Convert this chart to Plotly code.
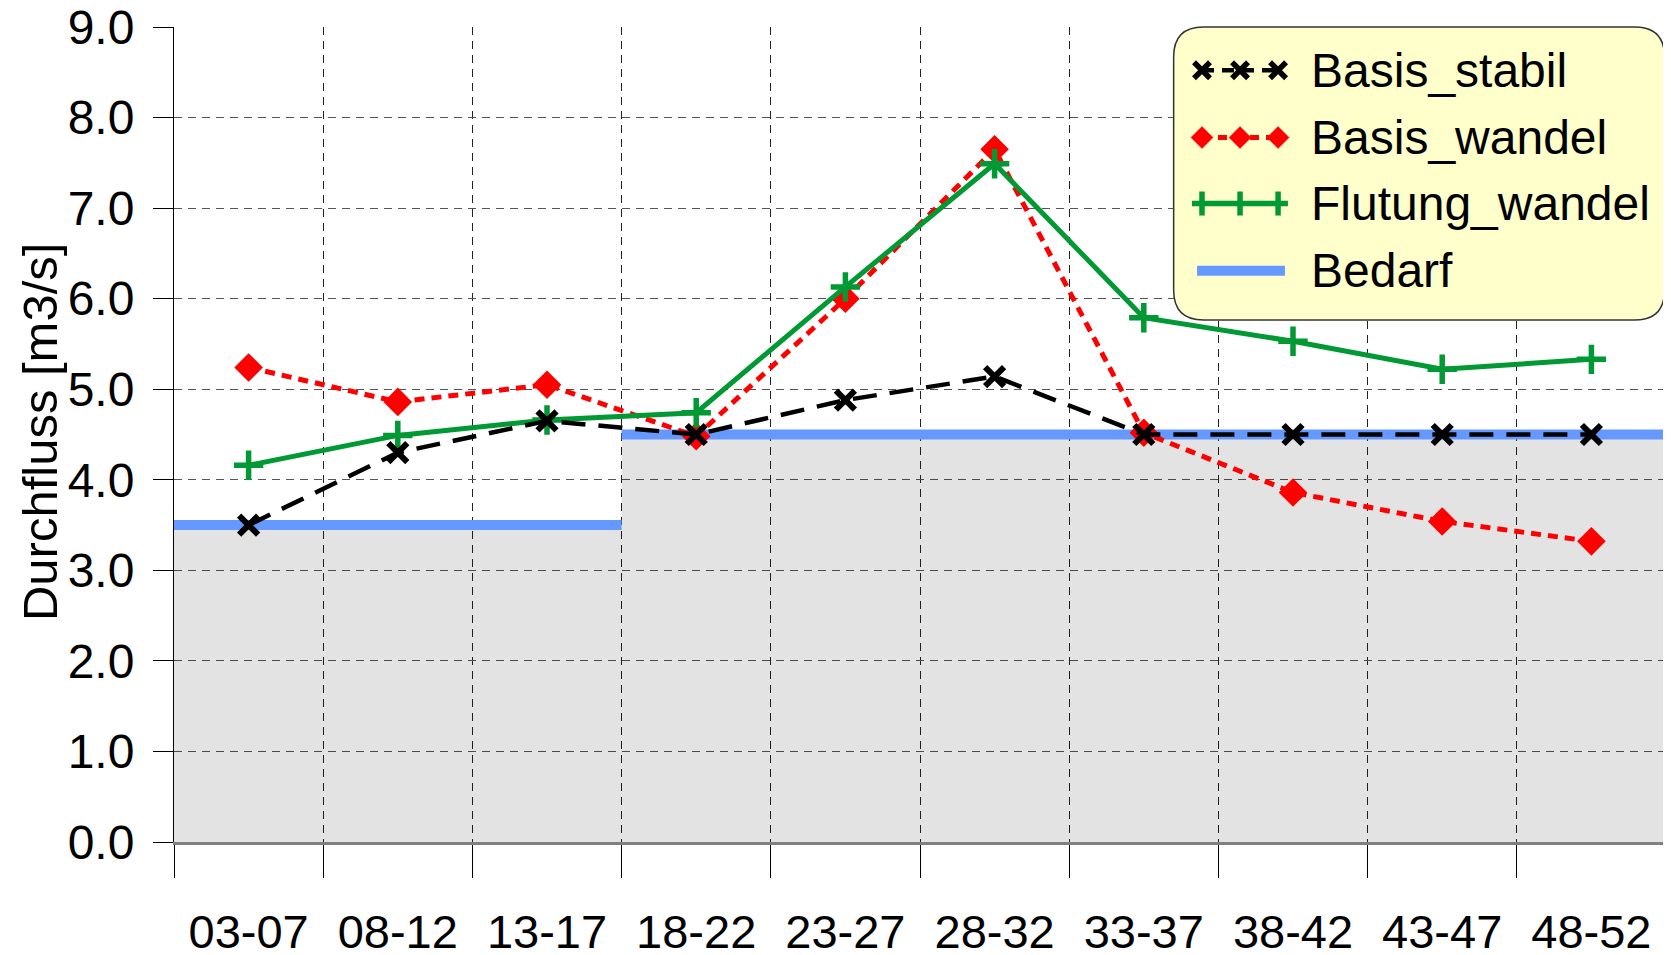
import plotly.graph_objects as go

categories = ["03-07", "08-12", "13-17", "18-22", "23-27", "28-32", "33-37", "38-42", "43-47", "48-52"]
basis_stabil = [3.5, 4.3, 4.65, 4.5, 4.88, 5.14, 4.5, 4.5, 4.5, 4.5]
basis_wandel = [5.24, 4.86, 5.05, 4.48, 6.0, 7.65, 4.52, 3.86, 3.54, 3.32]
flutung_wandel = [4.16, 4.49, 4.66, 4.74, 6.13, 7.49, 5.79, 5.53, 5.22, 5.33]
bedarf = [3.5, 3.5, 3.5, 4.5, 4.5, 4.5, 4.5, 4.5, 4.5, 4.5]
y_ticks = [0, 1, 2, 3, 4, 5, 6, 7, 8, 9]

n = len(categories)
idx = list(range(n))
edges = [i - 0.5 for i in range(n + 1)]

# Bedarf line as horizontal segments (no vertical riser where the level changes)
bed_x, bed_y = [], []
for i, v in enumerate(bedarf):
    if i > 0 and v != bedarf[i - 1]:
        bed_x.append(None)
        bed_y.append(None)
        bed_x.append(edges[i])
        bed_y.append(v)
    elif i == 0:
        bed_x.append(edges[0])
        bed_y.append(v)
    bed_x.append(edges[i + 1])
    bed_y.append(v)

FONT = "Liberation Sans, Arial, sans-serif"
BLACK = "#000000"
RED = "#FF0000"
GREEN = "#009933"
BLUE = "#6699FF"

fig = go.Figure()

# grey area beneath the Bedarf level
fig.add_trace(go.Scatter(
    x=edges, y=bedarf + [bedarf[-1]], mode="none", line_shape="hv",
    fill="tozeroy", fillcolor="rgba(0,0,0,0.11)", showlegend=False, hoverinfo="skip",
))
fig.add_trace(go.Scatter(
    x=bed_x, y=bed_y, mode="lines", connectgaps=False,
    line=dict(color=BLUE, width=10), name="Bedarf", showlegend=False,
))
fig.add_trace(go.Scatter(
    x=idx, y=basis_wandel, mode="lines+markers", name="Basis_wandel",
    line=dict(color=RED, width=5, dash="10px,7px"),
    marker=dict(symbol="diamond", size=22, color=RED), showlegend=False,
))
fig.add_trace(go.Scatter(
    x=idx, y=flutung_wandel, mode="lines+markers", name="Flutung_wandel",
    line=dict(color=GREEN, width=5),
    marker=dict(symbol="cross-thin", size=21, color=GREEN, line=dict(color=GREEN, width=5.5)),
    showlegend=False,
))
fig.add_trace(go.Scatter(
    x=idx, y=basis_stabil, mode="lines+markers", name="Basis_stabil",
    line=dict(color=BLACK, width=4.5, dash="24px,13px"),
    marker=dict(symbol="x-thin", size=19, color=BLACK, line=dict(color=BLACK, width=6)),
    showlegend=False,
))

# ---- custom legend (rounded box, samples, labels) ----
shapes = []
bx0, bx1, by0, by1 = 0.670, 0.999, 0.6405, 1.0
rx, ry = 0.02, 0.0368
path = (f"M{bx0+rx},{by1} L{bx1-rx},{by1} Q{bx1},{by1} {bx1},{by1-ry} "
        f"L{bx1},{by0+ry} Q{bx1},{by0} {bx1-rx},{by0} L{bx0+rx},{by0} "
        f"Q{bx0},{by0} {bx0},{by0+ry} L{bx0},{by1-ry} Q{bx0},{by1} {bx0+rx},{by1} Z")
shapes.append(dict(type="path", xref="paper", yref="paper", path=path,
                   fillcolor="#FFFFCC", line=dict(color="#333333", width=1.5), layer="above"))

rows = [0.9469, 0.8644, 0.7834, 0.701]
mk = [0.689, 0.7145, 0.740]
text_x = 0.7607
labels = ["Basis_stabil", "Basis_wandel", "Flutung_wandel", "Bedarf"]

# Basis_stabil sample
shapes.append(dict(type="line", xref="paper", yref="paper", x0=mk[0], x1=mk[2], y0=rows[0], y1=rows[0],
                   line=dict(color=BLACK, width=4.5, dash="12px,8px"), layer="above"))
for m in mk:
    shapes.append(dict(type="path", xref="paper", yref="paper", xsizemode="pixel", ysizemode="pixel",
                       xanchor=m, yanchor=rows[0], path="M-8,-8 L8,8 M-8,8 L8,-8",
                       line=dict(color=BLACK, width=5.5), layer="above"))
# Basis_wandel sample
shapes.append(dict(type="line", xref="paper", yref="paper", x0=mk[0], x1=mk[2], y0=rows[1], y1=rows[1],
                   line=dict(color=RED, width=5, dash="9px,7px"), layer="above"))
for m in mk:
    shapes.append(dict(type="path", xref="paper", yref="paper", xsizemode="pixel", ysizemode="pixel",
                       xanchor=m, yanchor=rows[1], path="M0,11 L11,0 L0,-11 L-11,0 Z",
                       fillcolor=RED, line=dict(color=RED, width=0.5), layer="above"))
# Flutung_wandel sample
shapes.append(dict(type="line", xref="paper", yref="paper", x0=0.6823, x1=0.7466, y0=rows[2], y1=rows[2],
                   line=dict(color=GREEN, width=5.5), layer="above"))
for m in mk:
    shapes.append(dict(type="path", xref="paper", yref="paper", xsizemode="pixel", ysizemode="pixel",
                       xanchor=m, yanchor=rows[2], path="M0,-12 L0,12",
                       line=dict(color=GREEN, width=5.5), layer="above"))
# Bedarf sample
shapes.append(dict(type="line", xref="paper", yref="paper", x0=0.6857, x1=0.7446, y0=rows[3], y1=rows[3],
                   line=dict(color=BLUE, width=10), layer="above"))

annotations = []
for lab, ry_ in zip(labels, rows):
    annotations.append(dict(x=text_x, y=ry_, xref="paper", yref="paper", text=lab, showarrow=False,
                            xanchor="left", yanchor="middle", font=dict(family=FONT, size=48, color=BLACK)))
# y-axis title
annotations.append(dict(x=-0.0898, y=0.503, xref="paper", yref="paper", text="Durchfluss [m3/s]",
                        showarrow=False, textangle=-90, xanchor="center", yanchor="middle",
                        font=dict(family=FONT, size=49, color=BLACK)))

# page body has an 8px margin: size the figure so it fits the 1671x955 window
fig.update_layout(
    width=1663, height=947,
    margin=dict(l=166, r=5, t=19, b=113),
    paper_bgcolor="white", plot_bgcolor="white",
    showlegend=False,
    shapes=shapes, annotations=annotations,
    font=dict(family=FONT, color=BLACK),
)
fig.update_xaxes(
    range=[-0.5, n - 0.5], tickmode="array", tickvals=idx, ticktext=categories,
    ticks="outside", ticklen=47, tickcolor="rgba(0,0,0,0)",
    showgrid=False, zeroline=False, automargin=False, ticklabeloverflow="allow",
    showline=True, linecolor="#808080", linewidth=3,
    tickfont=dict(family=FONT, size=47, color=BLACK),
    minor=dict(tickmode="array", tickvals=edges, ticks="outside", ticklen=33, tickcolor=BLACK, tickwidth=1,
               showgrid=True, gridcolor="#222222", griddash="8px,6px", gridwidth=1),
)
fig.update_yaxes(
    range=[0, 9], tickmode="array", tickvals=y_ticks, tickformat=".1f",
    ticks="outside", ticklen=20, tickcolor=BLACK, tickwidth=1,
    ticklabelstandoff=9, automargin=False, ticklabeloverflow="allow",
    showline=True, linecolor=BLACK, linewidth=1, zeroline=False,
    showgrid=True, gridcolor="#555555", griddash="8px,6px", gridwidth=1,
    tickfont=dict(family=FONT, size=48, color=BLACK),
)

fig.write_html("out.html")
